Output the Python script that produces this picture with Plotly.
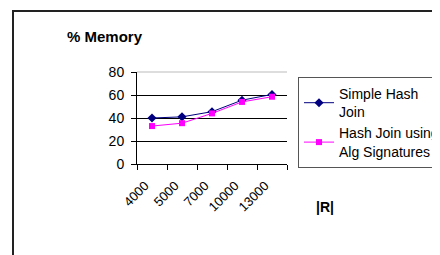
import plotly.graph_objects as go

categories = ["4000", "5000", "7000", "10000", "13000"]
simple_hash = [40, 41, 45.5, 55.5, 60.5]
alg_sig = [33, 35.5, 44, 54, 58.5]
y_ticks = [0, 20, 40, 60, 80]

W, H = 440, 255
OFF = 8  # page body margin
def px(x): return (x - OFF) / W
def py(y): return 1 - (y - OFF) / H

fig = go.Figure()
fig.add_trace(go.Scatter(
    x=categories, y=simple_hash, mode="lines+markers",
    name="Simple Hash<br>Join",
    line=dict(color="#000080", width=1),
    marker=dict(symbol="diamond", size=7, color="#000080"),
))
fig.add_trace(go.Scatter(
    x=categories, y=alg_sig, mode="lines+markers",
    name="Hash Join using<br>Alg Signatures",
    line=dict(color="#FF00FF", width=1),
    marker=dict(symbol="square", size=6, color="#FF00FF"),
))

font = "Liberation Sans, Arial, sans-serif"
fig.update_layout(
    width=W, height=H,
    margin=dict(l=0, r=0, t=0, b=0, autoexpand=False),
    paper_bgcolor="white", plot_bgcolor="white",
    font=dict(family=font, size=13, color="black"),
    showlegend=True,
    legend=dict(
        x=px(298), y=py(77), xanchor="left", yanchor="top",
        bordercolor="#555555", borderwidth=1, bgcolor="white",
        font=dict(size=14, family=font), tracegroupgap=2,
        itemwidth=30,
    ),
    xaxis=dict(
        domain=[px(137), px(287)], type="category",
        range=[-0.5, 4.5], tickson="boundaries",
        ticks="outside", ticklen=5, tickcolor="black",
        showline=True, linecolor="black", linewidth=1,
        showgrid=False, tickangle=-45,
        ticklabelshift=-7, ticklabelstandoff=8,
        tickfont=dict(size=13, family=font),
    ),
    yaxis=dict(
        domain=[py(164), py(72)], range=[0, 80],
        tickvals=y_ticks, ticktext=[str(v) for v in y_ticks],
        ticks="outside", ticklen=5, tickcolor="black",
        showline=True, linecolor="black", linewidth=1,
        showgrid=True, gridcolor="black", gridwidth=1,
        zeroline=False, ticklabelstandoff=4,
        tickfont=dict(size=14, family=font),
    ),
    annotations=[
        dict(text="<b>% Memory</b>", x=px(65), y=py(36), xref="paper", yref="paper",
             xanchor="left", yanchor="middle", showarrow=False,
             font=dict(size=15, family=font)),
        dict(text="<b>|R|</b>", x=px(325), y=py(207), xref="paper", yref="paper",
             xanchor="center", yanchor="middle", showarrow=False,
             font=dict(size=14, family=font)),
    ],
    shapes=[
        dict(type="line", xref="paper", yref="paper",
             x0=px(137), x1=px(287), y0=py(72), y1=py(72),
             line=dict(color="#dddddd", width=2)),
        dict(type="rect", xref="paper", yref="paper",
             x0=px(13), x1=1.05, y0=-0.05, y1=py(11),
             line=dict(color="#222222", width=2)),
    ],
)

fig.write_html("out.html")
